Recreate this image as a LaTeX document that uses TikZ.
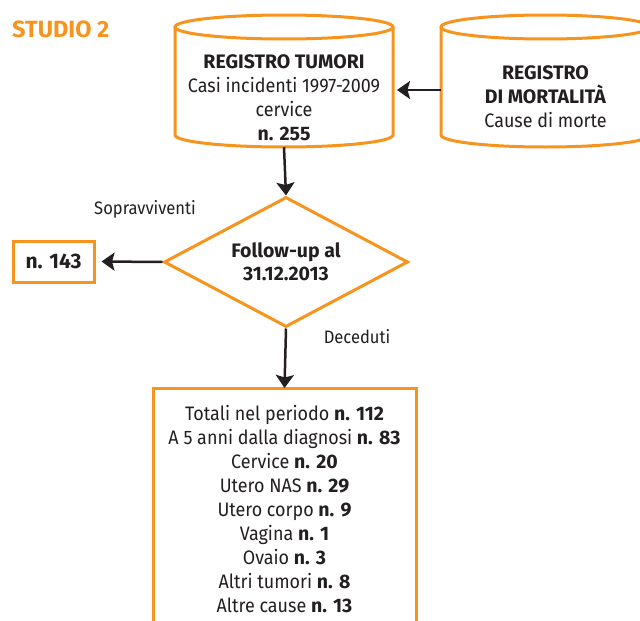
\documentclass[tikz,border=0pt]{standalone}
\usepackage{fontspec}
\setmainfont{Fira Sans}[UprightFeatures={FakeStretch=0.92}]
\usetikzlibrary{shapes.geometric,arrows.meta}
\definecolor{orng}{HTML}{F7941E}
\definecolor{ink}{HTML}{231F20}
\begin{document}
\begin{tikzpicture}[x=1pt,y=1pt,
  ob/.style={draw=orng, line width=3pt},
  arr/.style={draw=ink, line width=2.5pt, -{Stealth[length=13pt,width=18pt,inset=2.5pt]}},
  txt/.style={text=ink, font=\fontsize{19.5}{24}\selectfont, align=center, inner sep=0pt},
  lbl/.style={text=ink, font=\fontsize{18}{24}\selectfont, inner sep=0pt},
  hold/.style={inner sep=0pt, outer sep=0pt}]
\useasboundingbox (0,0) rectangle (640,-621);
\clip (0,0) rectangle (640,-621);
\fill[white] (0,0) rectangle (640,-621);

% title
\node[text=orng, font=\fontsize{23.5}{26}\selectfont\bfseries, anchor=west, inner sep=0pt] (studio) at (12,-29.5) {STUDIO 2};

% cylinder 1
\draw[ob] (175,-27) -- (175,-135) arc[start angle=180,end angle=360,x radius=109,y radius=12] -- (393,-27);
\draw[ob] (284,-27) ellipse [x radius=109, y radius=12];
\node[hold, minimum width=218pt, minimum height=132pt] (reg) at (284,-81) {};
\node[txt] (regtext) at (284,-98) {\textbf{REGISTRO TUMORI}\\Casi incidenti 1997-2009\\cervice\\\textbf{n. 255}};

% cylinder 2
\draw[ob] (441,-27) -- (441,-135) arc[start angle=180,end angle=360,x radius=104.5,y radius=12] -- (650,-27);
\draw[ob] (545.5,-27) ellipse [x radius=104.5, y radius=12];
\node[hold, minimum width=209pt, minimum height=132pt] (mort) at (545.5,-81) {};
\node[txt] (morttext) at (545.5,-97) {\textbf{REGISTRO}\\\textbf{DI MORTALITÀ}\\Cause di morte};

% diamond
\node[diamond, ob, aspect=1.88, minimum width=244pt, minimum height=130pt, inner sep=0pt, txt, font=\fontsize{19.5}{23}\selectfont\bfseries] (dia) at (286,-262) {Follow-up al\\31.12.2013};

% n. 143
\node[rectangle, ob, txt, minimum width=81pt, minimum height=41pt, font=\fontsize{21}{24}\selectfont\bfseries] (n143) at (53.5,-261.5) {n. 143};

% labels
\node[lbl] (sop) at (145,-209) {Sopravviventi};
\node[lbl] (dec) at (357,-337) {Deceduti};

% bottom box
\node[rectangle, ob, hold, minimum width=263pt, minimum height=260pt, anchor=north] (tot) at (284.5,-388) {};
\node[txt, anchor=north] (list) at (284.5,-405.5) {Totali nel periodo \textbf{n. 112}\\
A 5 anni dalla diagnosi \textbf{n. 83}\\
Cervice \textbf{n. 20}\\
Utero NAS \textbf{n. 29}\\
Utero corpo \textbf{n. 9}\\
Vagina \textbf{n. 1}\\
Ovaio \textbf{n. 3}\\
Altri tumori \textbf{n. 8}\\
Altre cause \textbf{n. 13}};

% connectors
\draw[arr] ([yshift=-9pt]mort.west) -- ([yshift=-9pt,xshift=4pt]reg.east);
\draw[arr] (reg.south) -- (dia.north);
\draw[arr] (dia.west) -- ([xshift=6pt]n143.east);
\draw[arr] (dia.south) -- (tot.north);
\end{tikzpicture}
\end{document}
